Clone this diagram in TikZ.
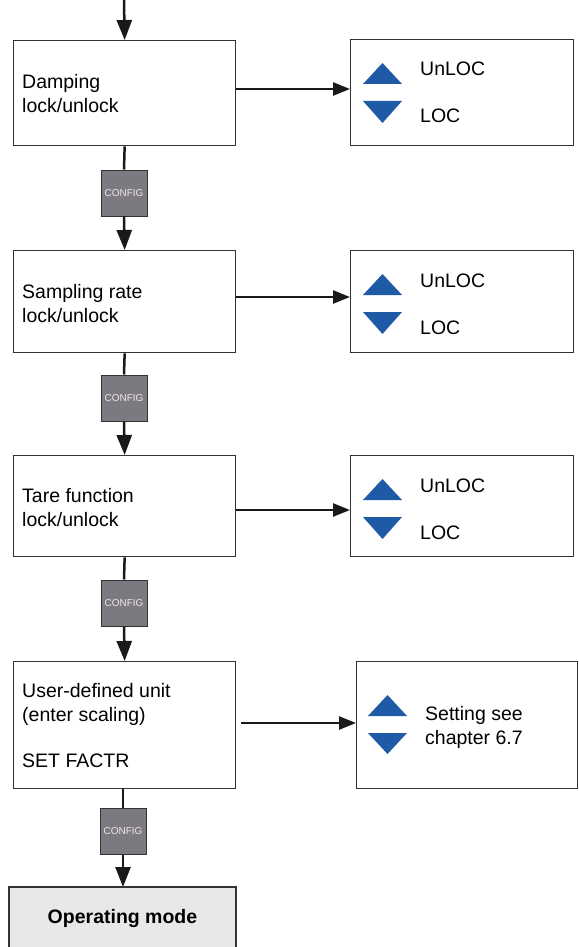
\documentclass[tikz,border=0pt]{standalone}
\usepackage{fontspec}
\setmainfont{Liberation Sans}
\usetikzlibrary{arrows.meta}
\definecolor{boxline}{HTML}{333333}
\definecolor{tri}{HTML}{1F5AA6}
\definecolor{cfgfill}{HTML}{7B7A80}
\definecolor{cfgtext}{HTML}{F2E4EA}
\definecolor{opfill}{HTML}{E8E8E8}
\begin{document}
\begin{tikzpicture}[x=1pt,y=-1pt,
  box/.style={draw=boxline,line width=1.3pt,fill=white,minimum width=#1,inner sep=0pt,anchor=north west},
  txt/.style={anchor=base west,inner sep=0pt,font=\fontsize{19.5}{23}\selectfont},
  cfg/.style={draw=black!80,line width=1pt,fill=cfgfill,minimum width=46pt,minimum height=46pt,inner sep=0pt,
     font=\fontsize{10}{10}\selectfont,text=cfgtext},
  conn/.style={line width=2.5pt,draw=black!90},
  arr/.style={conn,-{Triangle[length=20pt,width=15pt]}},
  harr/.style={conn,-{Triangle[length=17pt,width=13pt]}},
  up/.style={fill=tri,draw=none},
]
\useasboundingbox (0,0) rectangle (578,947);

% left boxes
\node[box=222pt,minimum height=105pt] (b1) at (13,40) {};
\node[box=222pt,minimum height=102pt] (b2) at (13,250) {};
\node[box=222pt,minimum height=101pt] (b3) at (13,455) {};
\node[box=222pt,minimum height=127pt] (b4) at (13,661) {};
\fill[opfill] (9,887) rectangle (236,950);
\draw[draw=boxline,line width=1.3pt] (9,950) -- (9,887) -- (236,887) -- (236,950);
\node[inner sep=0pt,font=\fontsize{19.5}{23}\selectfont\bfseries] (op) at (122.5,918) {Operating mode};
\coordinate (opn) at (123,887);

% left texts
\node[txt] (t1a) at (22,89) {Damping};
\node[txt] (t1b) at (22,113) {lock/unlock};
\node[txt] (t2a) at (22,298) {Sampling rate};
\node[txt] (t2b) at (22,322) {lock/unlock};
\node[txt] (t3a) at (22,502) {Tare function};
\node[txt] (t3b) at (22,526) {lock/unlock};
\node[txt] (t4a) at (22,697) {User-defined unit};
\node[txt] (t4b) at (22,721) {(enter scaling)};
\node[txt] (t4c) at (22,767) {SET FACTR};

% config boxes
\node[cfg] (c1) at (124,193) {CONFIG};
\node[cfg] (c2) at (124,398) {CONFIG};
\node[cfg] (c3) at (124,603) {CONFIG};
\node[cfg] (c4) at (123,831) {CONFIG};

% right boxes
\node[box=223pt,minimum height=106pt] (r1) at (350,39) {};
\node[box=223pt,minimum height=102pt] (r2) at (350,250) {};
\node[box=223pt,minimum height=101pt] (r3) at (350,455) {};
\node[box=221pt,minimum height=127pt] (r4) at (356,661) {};

% triangles and texts in right boxes
\foreach \n/\y in {1/39,2/250,3/455}{
  \fill[up] (363,\y+45) -- (402,\y+45) -- (382.5,\y+24) -- cycle;
  \fill[up] (363,\y+62) -- (402,\y+62) -- (382.5,\y+84) -- cycle;
  \node[txt] (u\n) at (420,\y+37) {UnLOC};
  \node[txt] (l\n) at (420,\y+84) {LOC};
}
\fill[up] (368,716) -- (407,716) -- (387.5,695) -- cycle;
\fill[up] (368,733) -- (407,733) -- (387.5,754) -- cycle;
\node[txt] (s1) at (425,720) {Setting see};
\node[txt] (s2) at (425,744) {chapter 6.7};

% vertical connectors
\coordinate (top) at (124,0);
\draw[arr] (top) -- (b1.north);
\draw[conn] (b1.south) -- (c1.north);
\draw[arr] (c1.south) -- (b2.north);
\draw[conn] (b2.south) -- (c2.north);
\draw[arr] (c2.south) -- (b3.north);
\draw[conn] (b3.south) -- (c3.north);
\draw[arr] (c3.south) -- (b4.north);
\draw[conn] (b4.south -| c4) -- (c4.north);
\draw[arr] (c4.south) -- (opn);

% horizontal connectors
\draw[harr] (b1.east |- 0,89) -- (r1.west |- 0,89);
\draw[harr] (b2.east |- 0,297) -- (r2.west |- 0,297);
\draw[harr] (b3.east |- 0,510) -- (r3.west |- 0,510);
\coordinate (h4) at (241,723);
\draw[harr] (h4) -- (r4.west |- h4);
\end{tikzpicture}
\end{document}
